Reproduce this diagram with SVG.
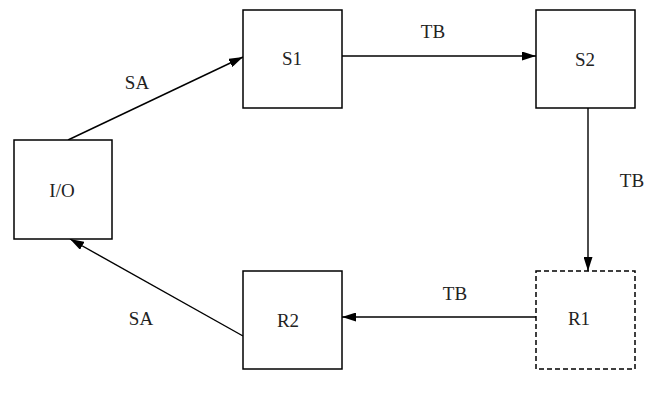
<svg xmlns="http://www.w3.org/2000/svg" width="667" height="400" viewBox="0 0 667 400">
<defs>
<marker id="arr" markerWidth="14" markerHeight="9" refX="14" refY="4.5" orient="auto" markerUnits="userSpaceOnUse">
<path d="M0,0 L14,4.5 L0,9 Z" fill="#000"/>
</marker>
</defs>
<style>
.box{fill:#fff;stroke:#000;stroke-width:1.5}
.dash{stroke-dasharray:5,3}
.edge{stroke:#000;stroke-width:1.4;fill:none;marker-end:url(#arr)}
text{font-family:"Liberation Serif","Times New Roman",serif;font-size:19px;fill:#222;text-anchor:middle}
</style>
<rect width="667" height="400" fill="#fff"/>
<g id="connectors">
<line class="edge" x1="68" y1="140" x2="243" y2="57"/>
<line class="edge" x1="342" y1="56" x2="536" y2="56"/>
<line class="edge" x1="588" y1="108" x2="588" y2="271"/>
<line class="edge" x1="536" y1="317" x2="342" y2="317"/>
<line class="edge" x1="243" y1="336" x2="70" y2="239"/>
<text x="137" y="89">SA</text>
<text x="433" y="38">TB</text>
<text x="632" y="187">TB</text>
<text x="455" y="300">TB</text>
<text x="141" y="325">SA</text>
</g>
<g id="IO"><rect class="box" x="14" y="140" width="98" height="99"/><text x="62" y="197">I/O</text></g>
<g id="S1"><rect class="box" x="243" y="10" width="99" height="98"/><text x="292" y="65">S1</text></g>
<g id="S2"><rect class="box" x="536" y="10" width="99" height="98"/><text x="585" y="66">S2</text></g>
<g id="R1"><rect class="box dash" x="536" y="271" width="99" height="98"/><text x="579" y="325">R1</text></g>
<g id="R2"><rect class="box" x="243" y="271" width="99" height="98"/><text x="288" y="327">R2</text></g>
</svg>
